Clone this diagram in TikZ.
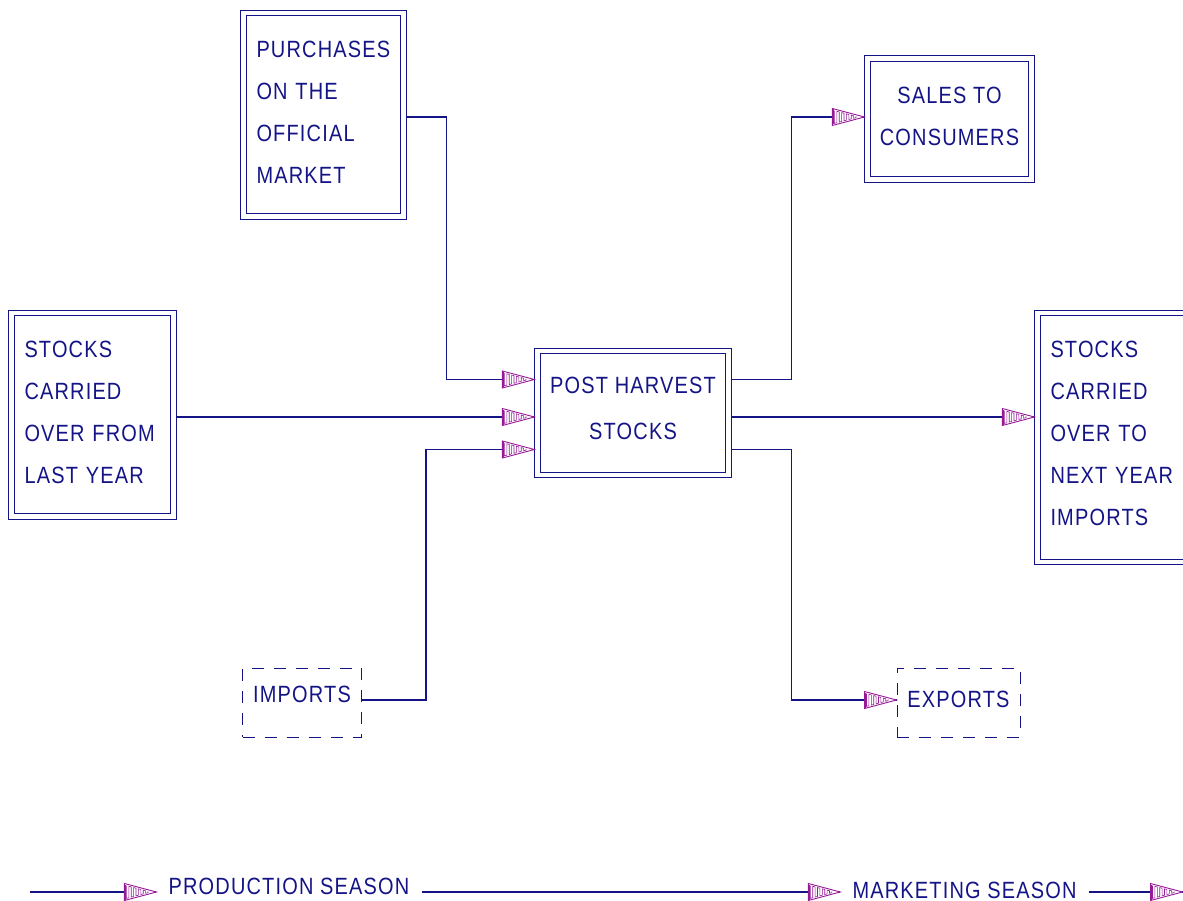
\documentclass[tikz,border=0pt]{standalone}
\usepackage{fontspec}
\setmainfont{Liberation Sans}[FakeStretch=0.85,LetterSpace=5]
\usetikzlibrary{decorations.markings,calc}
\definecolor{ink}{RGB}{20,20,135}
\definecolor{headcol}{RGB}{150,25,150}
\tikzset{
  % hatched CAD-style arrow head, tip at the origin pointing along +x
  hatchhead/.pic={
    \fill[white] (-32,8.5) -- (0,0) -- (-32,-8.5) -- cycle;
    \draw[headcol,line width=0.6pt,line join=miter]
      (-30,{-(8.5*30/32-1.6)})
      \foreach \i [evaluate=\i as \xa using {-30+2.4*\i},
                   evaluate=\i as \h using {8.5*(30-2.4*\i)/32-1.6},
                   evaluate=\i as \s using {2*mod(\i,2)-1}] in {0,...,9}
        { -- (\xa,{\s*\h}) -- (\xa,{-\s*\h}) };
    \draw[headcol,line width=0.9pt,line join=miter] (-32,8.5) -- (0,0) -- (-32,-8.5) -- cycle;
    \draw[headcol,line width=0.6pt] (-31,7.5) -- (-31,-7.5);
  },
  withhead/.style={postaction={decorate,decoration={markings,
      mark=at position 1 with {\pic{hatchhead};}}}},
  conn/.style={draw=ink,line width=1.1pt,withhead},
  dbox/.style={draw=ink,line width=1pt,double=white,double distance=4.2pt,
    outer sep=3.1pt,inner sep=0pt,text=ink,font=\fontsize{23.5}{42}\selectfont},
  leftbox/.style={dbox,align=left,inner xsep=13pt},
  dashbox/.style={draw=ink,line width=1pt,dash pattern=on 12pt off 10pt,
    inner sep=0pt,text=ink,font=\fontsize{23.5}{42}\selectfont,text height=17pt},
  season/.style={text=ink,font=\fontsize{23.5}{28}\selectfont,inner xsep=12pt,
    inner ysep=0pt,text height=17pt,text depth=0pt},
}
\begin{document}
\begin{tikzpicture}[x=1pt,y=-1pt]
\useasboundingbox (0,0) rectangle (1183,901);
\clip (0,0) rectangle (1183,901);

% boxes
\node[leftbox,minimum width=160pt,minimum height=203.5pt,text width=134pt,text depth=130.5pt]
  (pur) at (323.5,114.75) {PURCHASES\\ON THE\\OFFICIAL\\MARKET};
\node[dbox,align=center,minimum width=164pt,minimum height=121pt,text depth=6pt]
  (sal) at (949.5,119) {SALES TO\\CONSUMERS};
\node[leftbox,minimum width=162pt,minimum height=203.5pt,text width=136pt,text depth=131pt]
  (stl) at (92.5,414.75) {STOCKS\\CARRIED\\OVER FROM\\LAST YEAR};
\node[dbox,align=center,minimum width=191pt,minimum height=124pt,text depth=9pt,
  font=\fontsize{23.5}{46}\selectfont]
  (ph) at (633,413) {POST HARVEST\\STOCKS};
\node[leftbox,minimum width=162pt,minimum height=249pt,text width=136pt,text depth=176pt]
  (stn) at (1118.5,437.5) {STOCKS\\CARRIED\\OVER TO\\NEXT YEAR\\IMPORTS};
\node[dashbox,minimum width=119pt,minimum height=69pt,text depth=17pt]
  (imp) at (302,702.5) {IMPORTS};
\node[dashbox,minimum width=123pt,minimum height=69pt,text depth=7pt]
  (exp) at (958.5,702.5) {EXPORTS};

% connector levels
\coordinate (rTop) at (0,117);
\coordinate (rA) at (0,379.5);
\coordinate (rB) at (0,417);
\coordinate (rC) at (0,449.5);
\coordinate (rLow) at (0,700);

% flows into the post-harvest stocks
\draw[conn] (pur.east |- rTop) -- ++(40,0) |- (rA -| ph.west);
\draw[conn] (stl.east |- rB) -- (rB -| ph.west);
\draw[conn] (imp.east |- rLow) -- ++(64,0) |- (rC -| ph.west);

% flows out of the post-harvest stocks
\draw[conn] (ph.east |- rA) -- ++(60,0) |- (rTop -| sal.west);
\draw[conn] (ph.east |- rB) -- (rB -| stn.west);
\draw[conn] (ph.east |- rC) -- ++(60,0) |- (rLow -| exp.west);

% season time line
\coordinate (tl) at (30,892);
\coordinate (tr) at (1182.5,892);
\node[season] (prod) at (289,886) {PRODUCTION SEASON};
\node[season] (mkt) at (964.5,889.5) {MARKETING SEASON};
\draw[conn] (tl) -- (tl -| prod.west);
\draw[conn] (prod.east |- tl) -- (tl -| mkt.west);
\draw[conn] (mkt.east |- tl) -- (tr);
\end{tikzpicture}
\end{document}
